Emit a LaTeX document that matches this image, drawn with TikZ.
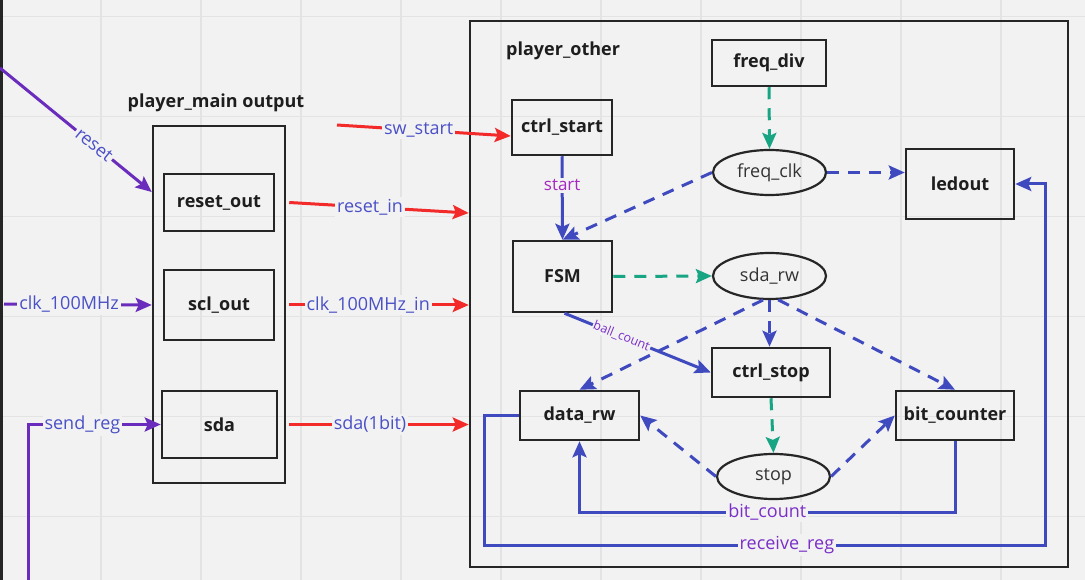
\documentclass[tikz,border=0pt]{standalone}
\usepackage{fontspec}
\setmainfont{Open Sans}
\usetikzlibrary{arrows.meta,shapes.geometric,calc}
\definecolor{bgc}{HTML}{F2F2F2}
\definecolor{gridc}{HTML}{E3E3E3}
\definecolor{boxc}{HTML}{262626}
\definecolor{txtc}{HTML}{1E1E1E}
\definecolor{elltxt}{HTML}{333333}
\definecolor{bluec}{HTML}{3F4ABF}
\definecolor{purplec}{HTML}{6A2CBC}
\definecolor{redc}{HTML}{F22A2A}
\definecolor{greenc}{HTML}{17A583}
\definecolor{lblblue}{HTML}{4A50C6}
\definecolor{lblmag}{HTML}{A528C0}
\definecolor{lblpur}{HTML}{7A2FC8}
\begin{document}
\begin{tikzpicture}[x=1pt,y=-1pt,
  box/.style={draw=boxc,line width=2.5pt,rectangle,text=txtc,font=\bfseries\fontsize{18}{21}\selectfont,inner sep=0pt},
  frame/.style={draw=boxc,line width=2.5pt,rectangle,inner sep=0pt},
  ell/.style={ellipse,draw=boxc,line width=2.2pt,text=elltxt,font=\fontsize{18}{21}\selectfont,inner sep=0pt},
  title/.style={text=txtc,font=\bfseries\fontsize{18}{21}\selectfont,inner sep=0pt},
  arr/.style={line width=3pt,-{Stealth[length=16pt,width=14pt,inset=3pt]}},
  dsh/.style={dash pattern=on 12pt off 9pt},
  lbl/.style={fill=bgc,inner sep=2pt,font=\fontsize{18}{21}\selectfont,text=lblblue},
]
\useasboundingbox (0,0) rectangle (1085,580);
\fill[bgc] (0,0) rectangle (1085,580);
\foreach \i in {1,...,10} \draw[gridc,line width=1.2pt] (1+100*\i,0) -- (1+100*\i,580);
\foreach \j in {0,...,5} \draw[gridc,line width=1.2pt] (0,16.5+100*\j) -- (1085,16.5+100*\j);
\draw[boxc,line width=2.5pt] (1.5,0) -- (1.5,580);

% left block
\node[frame,minimum width=132pt,minimum height=357pt] (pm) at (219,304.5) {};
\node[title] (pmtitle) at (216,103) {player\_main output};
\node[box,minimum width=110pt,minimum height=57pt] (reset_out) at (219,202.5) {reset\_out};
\node[box,minimum width=110pt,minimum height=70pt] (scl_out) at (219,305) {scl\_out};
\node[box,minimum width=115pt,minimum height=67pt] (sda) at (219.5,424.5) {sda};

% right block
\node[frame,minimum width=598pt,minimum height=546pt] (po) at (769,294) {};
\node[title,anchor=west] (potitle) at (506,51) {player\_other};
\node[box,minimum width=114pt,minimum height=46pt] (freq_div) at (769,63) {freq\_div};
\node[box,minimum width=100pt,minimum height=55pt] (ctrl_start) at (562,127.5) {ctrl\_start};
\node[ell,minimum width=113pt,minimum height=45pt] (freq_clk) at (769.5,172.5) {freq\_clk};
\node[box,minimum width=108pt,minimum height=70pt] (ledout) at (960,184) {ledout};
\node[box,minimum width=99pt,minimum height=71pt] (FSM) at (562.5,276.5) {FSM};
\node[ell,minimum width=113pt,minimum height=46pt] (sda_rw) at (769.5,276) {sda\_rw};
\node[box,minimum width=118pt,minimum height=49pt] (ctrl_stop) at (771,372.5) {ctrl\_stop};
\node[box,minimum width=119pt,minimum height=49pt] (data_rw) at (579.5,415.5) {data\_rw};
\node[box,minimum width=118pt,minimum height=49pt] (bit_counter) at (955,415.5) {bit\_counter};
\node[ell,minimum width=113pt,minimum height=45pt] (stop) at (773.5,476.5) {stop};

% helper coordinates
\coordinate (rsrc) at (0,68);
\coordinate (h192) at (0,192);
\coordinate (csrc) at (4,304);
\coordinate (ssrc) at (28,580);
\coordinate (sknee) at (28,424.5);
\coordinate (h213) at (0,213);
\coordinate (swsrc) at (337,125);
\coordinate (h136) at (0,136);
\coordinate (rr1) at (484,545);
\coordinate (rr2) at (1045,184);

% left inputs (purple)
\draw[arr,purplec] (rsrc) -- node[lbl,sloped,pos=0.62]{reset} (pm.west |- h192);
\draw[arr,purplec] (csrc) -- node[lbl,pos=0.44]{clk\_100MHz} (pm.west |- scl_out.west);
\draw[arr,purplec] (ssrc) -- (sknee) -- node[lbl,pos=0.41]{send\_reg} (sda.west);

% red connections
\draw[arr,redc] ([xshift=14pt]reset_out.east) -- node[lbl,pos=0.45]{reset\_in} (po.west |- h213);
\draw[arr,redc] (swsrc) -- node[lbl,pos=0.47]{sw\_start} (ctrl_start.west |- h136);
\draw[arr,redc] ([xshift=14pt]scl_out.east) -- node[lbl,pos=0.44]{clk\_100MHz\_in} (po.west |- scl_out.east);
\draw[arr,redc] ([xshift=11pt]sda.east) -- node[lbl,pos=0.45]{sda(1bit)} (po.west |- sda.east);

% internal
\draw[arr,greenc,dsh] (freq_div.south) -- (freq_clk.north);
\draw[arr,bluec] (ctrl_start.south) -- node[lbl,pos=0.35,text=lblmag,font=\fontsize{17}{20}\selectfont]{start} (FSM.north);
\draw[arr,bluec,dsh] (freq_clk.west) -- (FSM.north);
\draw[arr,bluec,dsh] (freq_clk.east) -- (ledout.west |- freq_clk.east);
\draw[arr,greenc,dsh] (FSM.east) -- (sda_rw.west);
\draw[arr,bluec] ([xshift=2pt]FSM.south) -- node[lbl,sloped,pos=0.39,text=lblpur,font=\fontsize{12.5}{15}\selectfont,inner sep=1pt]{ball\_count} (ctrl_stop.west);
\draw[arr,bluec,dsh] (sda_rw.255) -- (data_rw.north);
\draw[arr,bluec,dsh] (sda_rw.south) -- (sda_rw.south |- ctrl_stop.north);
\draw[arr,bluec,dsh] (sda_rw.290) -- (bit_counter.north);
\draw[arr,greenc,dsh] (ctrl_stop.south) -- (stop.north);
\draw[arr,bluec,dsh] (stop.west) -- (data_rw.east);
\draw[arr,bluec,dsh] (stop.east) -- (bit_counter.west);
\draw[arr,bluec] (bit_counter.south) -- ++(0,71) -| node[lbl,pos=0.25,text=lblpur]{bit\_count} (data_rw.south);
\draw[arr,bluec] (data_rw.west) -| (rr1) -| node[lbl,pos=0.27,text=lblpur]{receive\_reg} (rr2) -- (ledout.east);
\end{tikzpicture}
\end{document}
